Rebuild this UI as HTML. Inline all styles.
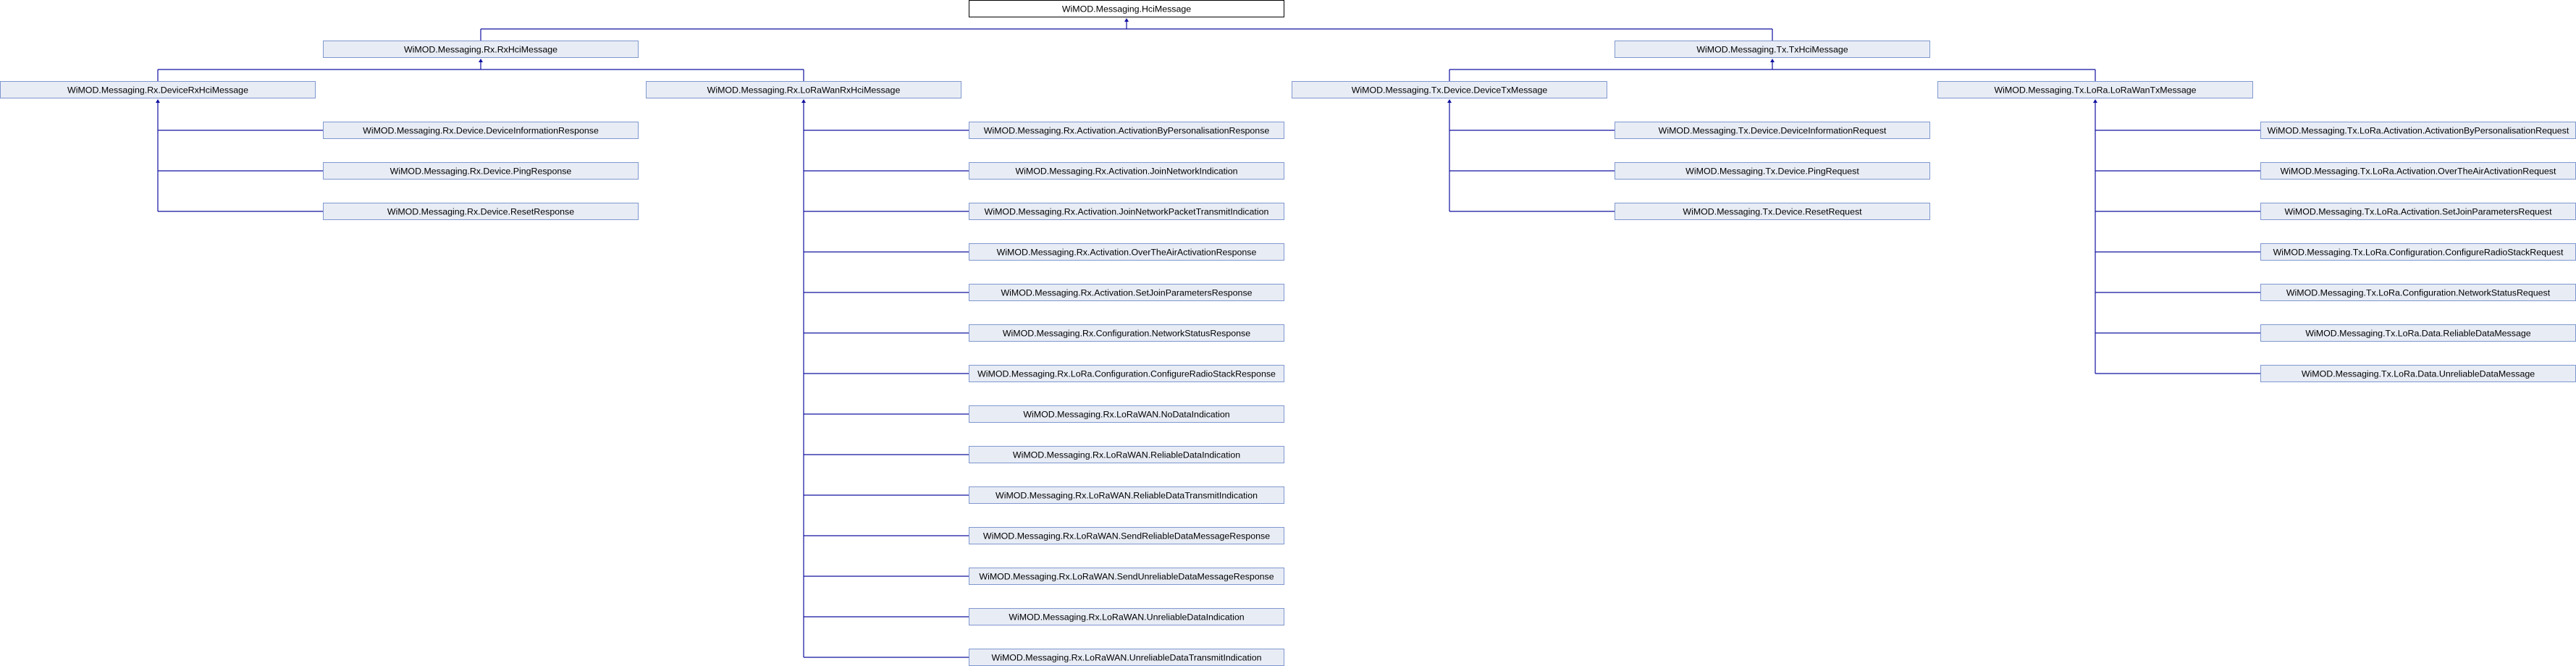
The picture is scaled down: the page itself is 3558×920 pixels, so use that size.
<!DOCTYPE html>
<html><head><meta charset="utf-8"><style>
html,body{margin:0;padding:0;background:#fff;}
svg{display:block;}
text{font-family:"Liberation Sans",sans-serif;font-size:12.4px;fill:#000;text-anchor:middle;}
.b{fill:#e8ecf5;stroke:#7f98cf;stroke-width:1;}
.r{fill:#fff;stroke:#000;stroke-width:1;}
.l{stroke:#1010a0;stroke-width:1.2;fill:none;}
.a{fill:#1010a0;}
</style></head><body>
<svg width="3558" height="920" viewBox="0 0 3558 920" xmlns="http://www.w3.org/2000/svg">
<path class="l" d="M1556 27V40M664 40H2448M664 40V56M2448 40V56"/>
<path class="l" d="M664 83V96M218 96H1110M218 96V112M1110 96V112"/>
<path class="l" d="M2448 83V96M2002 96H2894M2002 96V112M2894 96V112"/>
<path class="l" d="M218 139V292M218 180H446M218 236H446M218 292H446"/>
<path class="l" d="M2002 139V292M2002 180H2230M2002 236H2230M2002 292H2230"/>
<path class="l" d="M1110 139V908M1110 180H1338M1110 236H1338M1110 292H1338M1110 348H1338M1110 404H1338M1110 460H1338M1110 516H1338M1110 572H1338M1110 628H1338M1110 684H1338M1110 740H1338M1110 796H1338M1110 852H1338M1110 908H1338"/>
<path class="l" d="M2894 139V516M2894 180H3122M2894 236H3122M2894 292H3122M2894 348H3122M2894 404H3122M2894 460H3122M2894 516H3122"/>
<polygon class="a" points="1556,25 1553,30 1559,30"/>
<polygon class="a" points="664,81 661,86 667,86"/>
<polygon class="a" points="2448,81 2445,86 2451,86"/>
<polygon class="a" points="218,137 215,142 221,142"/>
<polygon class="a" points="1110,137 1107,142 1113,142"/>
<polygon class="a" points="2002,137 1999,142 2005,142"/>
<polygon class="a" points="2894,137 2891,142 2897,142"/>
<rect class="r" x="1338.5" y="0.5" width="435" height="23"/><text x="1556" y="16.5">WiMOD.Messaging.HciMessage</text>
<rect class="b" x="446.5" y="56.5" width="435" height="23"/><text x="664" y="72.5">WiMOD.Messaging.Rx.RxHciMessage</text>
<rect class="b" x="2230.5" y="56.5" width="435" height="23"/><text x="2448" y="72.5">WiMOD.Messaging.Tx.TxHciMessage</text>
<rect class="b" x="0.5" y="112.5" width="435" height="23"/><text x="218" y="128.5">WiMOD.Messaging.Rx.DeviceRxHciMessage</text>
<rect class="b" x="892.5" y="112.5" width="435" height="23"/><text x="1110" y="128.5">WiMOD.Messaging.Rx.LoRaWanRxHciMessage</text>
<rect class="b" x="1784.5" y="112.5" width="435" height="23"/><text x="2002" y="128.5">WiMOD.Messaging.Tx.Device.DeviceTxMessage</text>
<rect class="b" x="2676.5" y="112.5" width="435" height="23"/><text x="2894" y="128.5">WiMOD.Messaging.Tx.LoRa.LoRaWanTxMessage</text>

<rect class="b" x="446.5" y="168.5" width="435" height="23"/><text x="664" y="184.5">WiMOD.Messaging.Rx.Device.DeviceInformationResponse</text>
<rect class="b" x="446.5" y="224.5" width="435" height="23"/><text x="664" y="240.5">WiMOD.Messaging.Rx.Device.PingResponse</text>
<rect class="b" x="446.5" y="280.5" width="435" height="23"/><text x="664" y="296.5">WiMOD.Messaging.Rx.Device.ResetResponse</text>

<rect class="b" x="2230.5" y="168.5" width="435" height="23"/><text x="2448" y="184.5">WiMOD.Messaging.Tx.Device.DeviceInformationRequest</text>
<rect class="b" x="2230.5" y="224.5" width="435" height="23"/><text x="2448" y="240.5">WiMOD.Messaging.Tx.Device.PingRequest</text>
<rect class="b" x="2230.5" y="280.5" width="435" height="23"/><text x="2448" y="296.5">WiMOD.Messaging.Tx.Device.ResetRequest</text>

<rect class="b" x="1338.5" y="168.5" width="435" height="23"/><text x="1556" y="184.5">WiMOD.Messaging.Rx.Activation.ActivationByPersonalisationResponse</text>
<rect class="b" x="1338.5" y="224.5" width="435" height="23"/><text x="1556" y="240.5">WiMOD.Messaging.Rx.Activation.JoinNetworkIndication</text>
<rect class="b" x="1338.5" y="280.5" width="435" height="23"/><text x="1556" y="296.5">WiMOD.Messaging.Rx.Activation.JoinNetworkPacketTransmitIndication</text>
<rect class="b" x="1338.5" y="336.5" width="435" height="23"/><text x="1556" y="352.5">WiMOD.Messaging.Rx.Activation.OverTheAirActivationResponse</text>
<rect class="b" x="1338.5" y="392.5" width="435" height="23"/><text x="1556" y="408.5">WiMOD.Messaging.Rx.Activation.SetJoinParametersResponse</text>
<rect class="b" x="1338.5" y="448.5" width="435" height="23"/><text x="1556" y="464.5">WiMOD.Messaging.Rx.Configuration.NetworkStatusResponse</text>
<rect class="b" x="1338.5" y="504.5" width="435" height="23"/><text x="1556" y="520.5">WiMOD.Messaging.Rx.LoRa.Configuration.ConfigureRadioStackResponse</text>
<rect class="b" x="1338.5" y="560.5" width="435" height="23"/><text x="1556" y="576.5">WiMOD.Messaging.Rx.LoRaWAN.NoDataIndication</text>
<rect class="b" x="1338.5" y="616.5" width="435" height="23"/><text x="1556" y="632.5">WiMOD.Messaging.Rx.LoRaWAN.ReliableDataIndication</text>
<rect class="b" x="1338.5" y="672.5" width="435" height="23"/><text x="1556" y="688.5">WiMOD.Messaging.Rx.LoRaWAN.ReliableDataTransmitIndication</text>
<rect class="b" x="1338.5" y="728.5" width="435" height="23"/><text x="1556" y="744.5">WiMOD.Messaging.Rx.LoRaWAN.SendReliableDataMessageResponse</text>
<rect class="b" x="1338.5" y="784.5" width="435" height="23"/><text x="1556" y="800.5">WiMOD.Messaging.Rx.LoRaWAN.SendUnreliableDataMessageResponse</text>
<rect class="b" x="1338.5" y="840.5" width="435" height="23"/><text x="1556" y="856.5">WiMOD.Messaging.Rx.LoRaWAN.UnreliableDataIndication</text>
<rect class="b" x="1338.5" y="896.5" width="435" height="23"/><text x="1556" y="912.5">WiMOD.Messaging.Rx.LoRaWAN.UnreliableDataTransmitIndication</text>

<rect class="b" x="3122.5" y="168.5" width="435" height="23"/><text x="3340" y="184.5">WiMOD.Messaging.Tx.LoRa.Activation.ActivationByPersonalisationRequest</text>
<rect class="b" x="3122.5" y="224.5" width="435" height="23"/><text x="3340" y="240.5">WiMOD.Messaging.Tx.LoRa.Activation.OverTheAirActivationRequest</text>
<rect class="b" x="3122.5" y="280.5" width="435" height="23"/><text x="3340" y="296.5">WiMOD.Messaging.Tx.LoRa.Activation.SetJoinParametersRequest</text>
<rect class="b" x="3122.5" y="336.5" width="435" height="23"/><text x="3340" y="352.5">WiMOD.Messaging.Tx.LoRa.Configuration.ConfigureRadioStackRequest</text>
<rect class="b" x="3122.5" y="392.5" width="435" height="23"/><text x="3340" y="408.5">WiMOD.Messaging.Tx.LoRa.Configuration.NetworkStatusRequest</text>
<rect class="b" x="3122.5" y="448.5" width="435" height="23"/><text x="3340" y="464.5">WiMOD.Messaging.Tx.LoRa.Data.ReliableDataMessage</text>
<rect class="b" x="3122.5" y="504.5" width="435" height="23"/><text x="3340" y="520.5">WiMOD.Messaging.Tx.LoRa.Data.UnreliableDataMessage</text>
</svg>
</body></html>
